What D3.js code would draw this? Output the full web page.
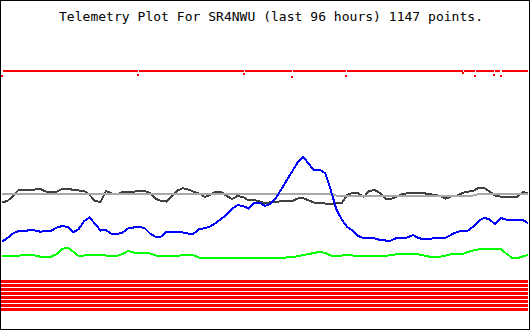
<!DOCTYPE html>
<html>
<head>
<meta charset="utf-8">
<script src="https://cdn.jsdelivr.net/npm/d3@7"></script>
<style>
body{margin:0;background:#fff;}
svg{display:block;}
</style>
</head>
<body>
<svg id="chart"></svg>
<script>
//data: raw telemetry counts (0-255), one reading per hour over 96 hours
var titleText = "Telemetry Plot For SR4NWU (last 96 hours) 1147 points.";
var hours = d3.range(0, 97);

var darkGray = [123.5,125,130,136,136.5,136,136.5,137,134.5,134.5,
                134.5,137,137.5,136,135.5,135,131,125,124,135,
                132.5,131.5,134,134.3,134.3,135,135,133,127.5,125,
                124.5,130,135.5,137.7,136.5,134.3,132.5,129,131,134.3,
                134,130,127,130,129,125.5,126,124.5,123,123.7,
                123.7,125,125,125,127.5,127.7,125.5,123.3,123.3,122.5,
                122,122.7,122.7,131,133.3,132.7,129,135,136,133,
                127,127,129.3,132,132.7,132.7,132.7,132.7,132,131,
                130,127.3,129.5,130,133,134.3,135,138.3,138,134.5,
                130.5,129.3,129,128.7,128.7,134,132.7];

var lightGray = [132.5,132.5,132.5,132.5,132.5,132.5,132.5,132.5,132.5,132.5,
                 132.5,132.5,132.5,132.5,132.5,132.5,132.5,132.5,132.5,132.5,
                 132.5,132.5,132.5,132.5,132.5,132.5,132.5,132.5,132.5,132.5,
                 132.5,132.5,132.5,132.5,132.5,132.5,132.5,132.5,132.5,132.5,
                 132.5,132.5,132.5,132.5,132.5,132.5,132.5,132.5,132.5,132.5,
                 132.5,132.5,132.5,132.5,132.5,132.5,132.5,132.5,132.5,132.5,
                 132.5,130.5,130.5,130.5,130.5,130.5,130.5,130.5,130.5,130.5,
                 130.5,130.5,130.5,130.5,130.5,130.5,130.5,130.5,130.5,130.5,
                 130.5,130.5,130.5,130.5,130.5,130.5,130.5,132,132,132,
                 132,132,132,132,132,132,132];

var blue = [84.3,88,92.5,95,94.5,96,95.5,94.3,95,95.3,
            98.5,100,99,93.5,97,105,108.5,102,95.5,96,
            92,92,93.5,97.5,98.5,99,98,92.5,89.3,89.3,
            94,94.5,94,93.5,92.5,92.5,97,97.7,99.5,103,
            107,111.5,117,121,120,117.5,123.5,123.5,120,122,
            128,137,146,155,164,169,162,155.5,156.5,152.5,
            136,117,106.5,99,95.3,90,87.7,87.7,87.7,86,
            85.5,85.5,88,88.3,88.5,91,88,86.7,86.7,88.3,
            88.3,88.3,91.3,94,95.3,95.3,99.5,105,108.3,106.5,
            101.7,108,106.5,106,106,106,103];

var green = [70.3,70.3,70.3,70.3,71,71,70.5,69.3,69.3,69.3,
             72,77,78.3,74.3,70,70.5,71,71,71,70.5,
             70.3,70.3,72,75,73.5,73,73,72.5,70.5,70,
             70,70,70,71,71,70.5,68.5,67.7,67.7,67.7,
             67.7,67.7,67.7,67.7,67.7,67.7,67.7,67.7,67.7,67.7,
             67.7,67.7,68.7,68.7,70,71,72,73,74.3,73,
             70.5,70,70.5,71,70.5,70.3,70.3,70.3,70.3,69.7,
             70,71,71.7,71.7,71.7,71.7,71.7,70.5,69.3,69.3,
             69.3,70.5,71.7,71.7,71.7,74,75.5,76.7,76.7,76.7,
             76.7,77,72.5,68.5,67.7,69.5,71];

//top red channel sits at full scale with a few low readings
var topLevel = 255;
var glitchHours = [0, 24.88, 44.22, 52.98, 62.84, 84.19, 86.38, 89.85, 91.07];
var glitchValues = [250, 251, 252, 249.3, 250, 253.5, 250, 251.3, 250];

//flat red status channels at the bottom
var stripeLevels = [44.5, 40.5, 36.5, 32.5, 28.5, 24.5, 20.5, 16.5];

//sizes
var svgWidth = 530, svgHeight = 330;

var svg = d3.select("#chart")
	.attr("width", svgWidth)
	.attr("height", svgHeight);

svg.append("rect")
	.attr("width", svgWidth)
	.attr("height", svgHeight)
	.attr("fill", "#fff");

//scales
var xScale = d3.scaleLinear()
	.domain([0, 96])
	.range([2, 528]);

var yScale = d3.scaleLinear()
	.domain([0, 256])
	.range([326, 70]);

//title
svg.append("text")
	.attr("x", 59)
	.attr("y", 21)
	.attr("textLength", 424)
	.attr("lengthAdjust", "spacing")
	.style("font-family", "'DejaVu Sans Mono', monospace")
	.style("font-size", "13px")
	.attr("fill", "#000")
	.text(titleText);

//line generator for one series
function seriesLine(values){
	return d3.line()
		.x(function(d, i){ return xScale(hours[i]); })
		.y(function(d){ return yScale(d); })(values);
}

var series = [
	{values: darkGray, color: "#404040"},
	{values: lightGray, color: "#a8a8a8"},
	{values: blue, color: "#0000ff"},
	{values: green, color: "#00ff00"}
];

//plotted as 2px points in the original, so keep edges hard
series.forEach(function(s){
	svg.append("path")
		.attr("d", seriesLine(s.values))
		.attr("fill", "none")
		.attr("stroke", s.color)
		.attr("stroke-width", 2)
		.attr("shape-rendering", "crispEdges");
});

//top red line, broken where a low reading drops out of it
var gap = 0.12;
var segments = [];
var start = 0;
glitchHours.forEach(function(g){
	if (g - gap > start) segments.push([start, g - gap]);
	start = g + gap;
});
segments.push([start, 96]);

svg.selectAll(".topseg")
	.data(segments)
	.enter()
	.append("line")
	.attr("class", "topseg")
	.attr("x1", function(d){ return xScale(d[0]); })
	.attr("x2", function(d){ return xScale(d[1]); })
	.attr("y1", yScale(topLevel))
	.attr("y2", yScale(topLevel))
	.attr("stroke", "#ff0000")
	.attr("stroke-width", 2)
	.attr("shape-rendering", "crispEdges");

svg.selectAll(".glitch")
	.data(glitchHours)
	.enter()
	.append("rect")
	.attr("class", "glitch")
	.attr("x", function(d){ return xScale(d) - 1; })
	.attr("y", function(d, i){ return yScale(glitchValues[i]) - 1; })
	.attr("width", 2)
	.attr("height", 2)
	.attr("fill", "#ff0000")
	.attr("shape-rendering", "crispEdges");

//bottom stripes
svg.selectAll(".stripe")
	.data(stripeLevels)
	.enter()
	.append("line")
	.attr("class", "stripe")
	.attr("x1", xScale(0) - 1)
	.attr("x2", xScale(96))
	.attr("y1", function(d){ return yScale(d); })
	.attr("y2", function(d){ return yScale(d); })
	.attr("stroke", "#ff0000")
	.attr("stroke-width", 3)
	.attr("shape-rendering", "crispEdges");

//frame
svg.append("rect")
	.attr("x", 0.5)
	.attr("y", 0.5)
	.attr("width", svgWidth - 1)
	.attr("height", svgHeight - 1)
	.attr("fill", "none")
	.attr("stroke", "#000")
	.attr("stroke-width", 1)
	.attr("shape-rendering", "crispEdges");
</script>
</body>
</html>
